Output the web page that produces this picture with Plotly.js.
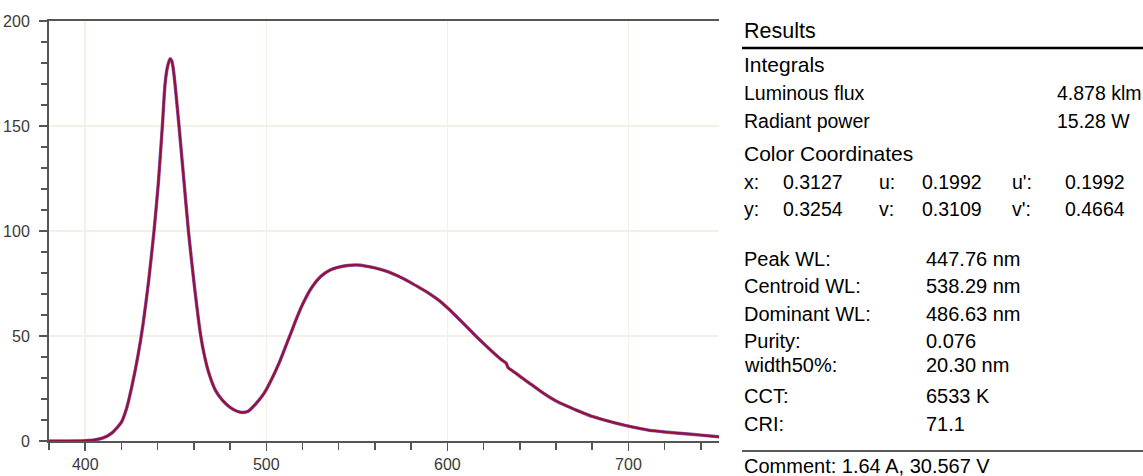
<!DOCTYPE html>
<html>
<head>
<meta charset="utf-8">
<script src="https://cdn.plot.ly/plotly-3.0.1.min.js"></script>
<style>
html,body{margin:0;padding:0;background:#fff;}
#chart{width:1143px;height:476px;}
</style>
</head>
<body>
<div id="chart"></div>
<script>
// Spectrum
const wavelength = [380,390,400,405,410,415,420,423,426,429,432,435,438,440.4,442.6,444.1,445.4,446.9,447.8,448.5,449.6,451.8,454.6,457,460,463.8,466,468.4,472,475.7,480,483.5,487,490,494,497.8,500,503,507,510,513.4,517,520,525,530,535,540,545,550,555,560,565,570,575,580,585,590,595,600,605,610,615,620,625,630,632.5,633.5,637.5,641,646.7,651,656,660,665,670,674.3,680,683.5,690,695,700,705,711,720,729.5,740,750];
const intensity = [0,0,0.2,0.5,1.5,4,9,16,27,40,56,76,100,123,150,170,178,182,181,178,170,150,123,100,76,50,40,32,24,19.5,16,14.3,13.6,14.2,17.5,21.5,24.5,29.5,37,43.5,51,59,65,73,78.3,81.3,82.8,83.6,83.8,83.3,82.4,81.2,79.6,77.6,75.3,72.8,70.2,67.2,63.5,59.3,55,50.6,46.4,42.4,38.6,37,35,32.5,30.2,26.7,24,21.1,19.1,17,15.1,13.6,11.7,10.8,9.2,8.1,7.1,6.2,5.2,4.3,3.6,2.8,2.0];

const xTickVals = [400,500,600,700];
const yTickVals = [0,50,100,150,200];

// Results panel text
const resultsTitle = "Results";
const integralsTitle = "Integrals";
const integralLabels = ["Luminous flux","Radiant power"];
const integralValues = ["4.878 klm","15.28 W"];
const colorTitle = "Color Coordinates";
const coordRow1 = ["x:","0.3127","u:","0.1992","u':","0.1992"];
const coordRow2 = ["y:","0.3254","v:","0.3109","v':","0.4664"];
const propLabels = ["Peak WL:","Centroid WL:","Dominant WL:","Purity:","width50%:","CCT:","CRI:"];
const propValues = ["447.76 nm","538.29 nm","486.63 nm","0.076","20.30 nm","6533 K","71.1"];
const commentText = "Comment: 1.64 A, 30.567 V";

// plot area in pixels
const L = 49, T = 21, W = 670, H = 420;
const px = x => (x - L) / W;
const py = y => (T + H - y) / H;

const font = "Liberation Sans, Arial, sans-serif";
const ann = [];
function txt(t, x, y, size) {
  ann.push({text: t, xref: 'paper', yref: 'paper', x: px(x), y: py(y),
    xanchor: 'left', yanchor: 'middle', showarrow: false,
    font: {family: font, size: size || 20, color: '#000'}});
}
txt(resultsTitle, 742, 31, 21.5);
txt(integralsTitle, 742, 65, 21);
const intY = [93, 121];
integralLabels.forEach((t, i) => { txt(t, 742, intY[i], 19.5); txt(integralValues[i], 1055, intY[i], 19.5); });
txt(colorTitle, 742, 153, 21);
const coordX = [742, 781, 877, 920, 1010, 1063];
coordRow1.forEach((t, i) => txt(t, coordX[i], 182, 19.5));
coordRow2.forEach((t, i) => txt(t, coordX[i], 209, 19.5));
const propY = [259, 286, 314, 341, 365, 396, 424];
propLabels.forEach((t, i) => { txt(t, 742, propY[i], 20); txt(propValues[i], 924, propY[i], 20); });
txt(commentText, 742, 466, 20);

const shapes = [
  {type: 'line', xref: 'paper', yref: 'paper', x0: px(742), x1: px(1143), y0: py(48), y1: py(48), line: {color: '#000', width: 2.5}},
  {type: 'line', xref: 'paper', yref: 'paper', x0: px(742), x1: px(1143), y0: py(451), y1: py(451), line: {color: '#222', width: 1.5}}
];

const traces = [
  {x: wavelength, y: intensity, type: 'scatter', mode: 'lines', line: {color: '#8a5ac0', width: 3.4, shape: 'spline', smoothing: 0.6}, hoverinfo: 'skip'},
  {x: wavelength, y: intensity, type: 'scatter', mode: 'lines', line: {color: '#951230', width: 2.2, shape: 'spline', smoothing: 0.6}, hoverinfo: 'skip'}
];

const tickFont = {family: "Liberation Sans Narrow, Arial Narrow, sans-serif", size: 16, color: '#3a3a3a'};

const layout = {
  width: 1143, height: 476,
  margin: {l: L, r: 1143 - L - W, t: T, b: 476 - T - H, pad: 0},
  paper_bgcolor: '#fff', plot_bgcolor: '#fff',
  showlegend: false,
  xaxis: {
    range: [380, 750], tickvals: xTickVals, ticks: 'outside', ticklen: 8, tickwidth: 1.5, tickcolor: '#555',
    showline: true, linecolor: '#555', linewidth: 2, mirror: true,
    showgrid: true, gridcolor: '#f4f0e2', gridwidth: 1.5, zeroline: false,
    tickfont: tickFont,
    minor: {dtick: 20, tick0: 0, ticks: 'outside', ticklen: 7, tickwidth: 1.5, tickcolor: '#555', showgrid: false}
  },
  yaxis: {
    range: [0, 200], tickvals: yTickVals, ticks: 'outside', ticklen: 8, tickwidth: 1.5, tickcolor: '#555',
    showline: true, linecolor: '#555', linewidth: 2,
    showgrid: true, gridcolor: '#f3f0e6', gridwidth: 1.5, zeroline: false,
    tickfont: tickFont, ticklabelstandoff: 6,
    minor: {dtick: 10, tick0: 0, ticks: 'outside', ticklen: 6, tickwidth: 1.5, tickcolor: '#555', showgrid: false}
  },
  annotations: ann,
  shapes: shapes
};

Plotly.newPlot('chart', traces, layout, {displayModeBar: false, staticPlot: true});
</script>
</body>
</html>
